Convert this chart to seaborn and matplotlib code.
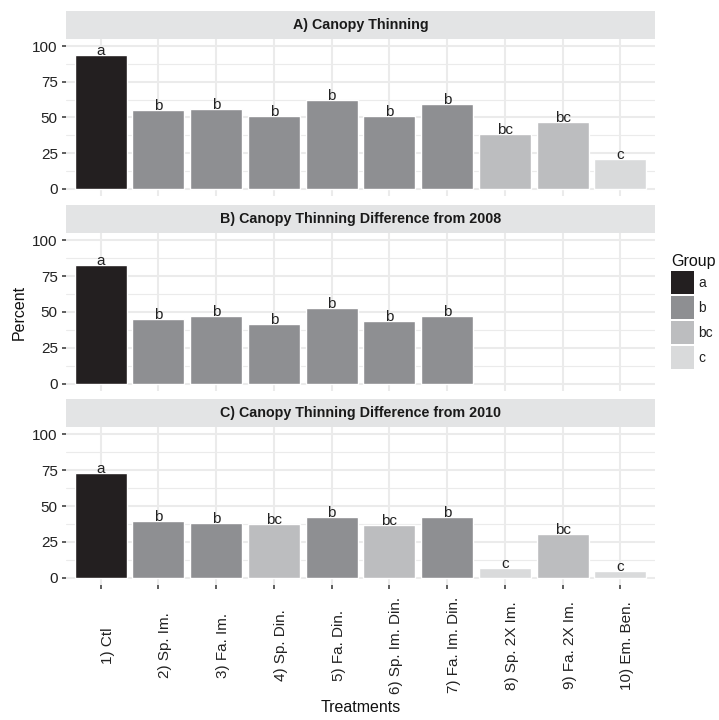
import numpy as np
import pandas as pd
import matplotlib
matplotlib.use("Agg")
import matplotlib.pyplot as plt
from matplotlib.patches import Rectangle, Patch
from matplotlib.ticker import FixedLocator
import seaborn as sns

# ---- data ----
treatments = ["1) Ctl", "2) Sp. Im.", "3) Fa. Im.", "4) Sp. Din.", "5) Fa. Din.",
              "6) Sp. Im. Din.", "7) Fa. Im. Din.", "8) Sp. 2X Im.", "9) Fa. 2X Im.",
              "10) Em. Ben."]
panel_titles = ["A) Canopy Thinning",
                "B) Canopy Thinning Difference from 2008",
                "C) Canopy Thinning Difference from 2010"]

thin_pct = [94, 55, 56, 51, 62.5, 51, 59.5, 38.5, 47, 21]
thin_grp = ["a", "b", "b", "b", "b", "b", "b", "bc", "bc", "c"]

diff2008_pct = [83, 45, 47, 41.5, 52.5, 43.5, 47.5]
diff2008_grp = ["a", "b", "b", "b", "b", "b", "b"]

diff2010_pct = [73, 39.5, 38, 37.5, 42.5, 37, 42.5, 7, 30.5, 4.7]
diff2010_grp = ["a", "b", "b", "bc", "b", "bc", "b", "c", "bc", "c"]

groups = ["a", "b", "bc", "c"]
group_colors = ["#231f20", "#8e8f92", "#bcbdbf", "#d9dadb"]
palette = dict(zip(groups, group_colors))

frames = [
    pd.DataFrame({"Treatment": treatments[:len(thin_pct)], "Percent": thin_pct, "Group": thin_grp}),
    pd.DataFrame({"Treatment": treatments[:len(diff2008_pct)], "Percent": diff2008_pct, "Group": diff2008_grp}),
    pd.DataFrame({"Treatment": treatments[:len(diff2010_pct)], "Percent": diff2010_pct, "Group": diff2010_grp}),
]

# ---- style ----
sns.set_theme(style="white")
plt.rcParams["font.family"] = ["Liberation Sans", "DejaVu Sans"]

W, H = 719, 720
fig = plt.figure(figsize=(W / 100, H / 100), dpi=100)

def fx(px):
    return px / W

def fy(px):
    return 1 - px / H

left, right = 66, 655
panels = [(39, 196), (233, 391), (427, 585)]
strip_h = 28
grid_col = "#ebebeb"
text_col = "#222222"

axes = []
for k, (top, bottom) in enumerate(panels):
    ax = fig.add_axes([fx(left), fy(bottom), fx(right - left), (bottom - top) / H])
    axes.append(ax)
    df = frames[k]
    sns.barplot(data=df, x="Treatment", y="Percent", hue="Group",
                order=treatments, hue_order=groups, palette=palette,
                dodge=False, width=0.9, saturation=1, ax=ax, legend=False)
    for i, row in df.iterrows():
        ax.text(treatments.index(row["Treatment"]), row["Percent"], row["Group"],
                ha="center", va="baseline", fontsize=11, color=text_col)

    ax.set_xlim(-0.6, len(treatments) - 0.4)
    ax.set_ylim(-5, 105)
    ax.set_yticks([0, 25, 50, 75, 100])
    ax.yaxis.set_minor_locator(FixedLocator([12.5, 37.5, 62.5, 87.5]))
    ax.set_axisbelow(True)
    ax.grid(True, which="major", axis="both", color=grid_col, linewidth=1.5)
    ax.grid(True, which="minor", axis="y", color=grid_col, linewidth=0.8)
    for s in ax.spines.values():
        s.set_visible(False)
    ax.set_facecolor("white")
    ax.set_xlabel("")
    ax.set_ylabel("")
    ax.tick_params(axis="y", which="major", length=3, width=1.1, color="#333333",
                   pad=2.9, labelsize=11, labelcolor=text_col, left=True)
    ax.tick_params(axis="y", which="minor", length=0)

    # facet strip
    h = strip_h / (bottom - top)
    ax.add_patch(Rectangle((0, 1), 1, h, transform=ax.transAxes, clip_on=False,
                           facecolor="#e3e4e5", edgecolor="none"))
    ax.text(0.5, 1 + h / 2, panel_titles[k], transform=ax.transAxes,
            ha="center", va="center", fontsize=10.3, fontweight="bold", color="#1a1a1a")

    if k < 2:
        ax.tick_params(axis="x", length=0, labelbottom=False)
    else:
        ax.tick_params(axis="x", length=3, width=1.1, color="#333333", bottom=True,
                       pad=40.5, labelsize=11, labelcolor=text_col)
        for lab in ax.get_xticklabels():
            lab.set_rotation(90)
            lab.set_ha("left")
            lab.set_va("center")

fig.text(fx(19), fy(312), "Percent", rotation=90, ha="center", va="center",
         fontsize=11.5, color="#111111")
fig.text(fx(360.5), fy(708), "Treatments", ha="center", va="center",
         fontsize=11.5, color="#111111")

handles = [Patch(facecolor=c, edgecolor="none") for c in group_colors]
leg = fig.legend(handles, groups, title="Group", loc="upper left",
                 bbox_to_anchor=(fx(671), fy(254)), frameon=False, borderpad=0,
                 fontsize=10, title_fontsize=11.5, handlelength=1.66, handleheight=2.18,
                 labelspacing=0.14, handletextpad=0.3, alignment="left",
                 borderaxespad=0)
for t in leg.get_texts():
    t.set_color(text_col)
leg.get_title().set_color("#111111")

fig.savefig("out.png", dpi=100, facecolor="white")
